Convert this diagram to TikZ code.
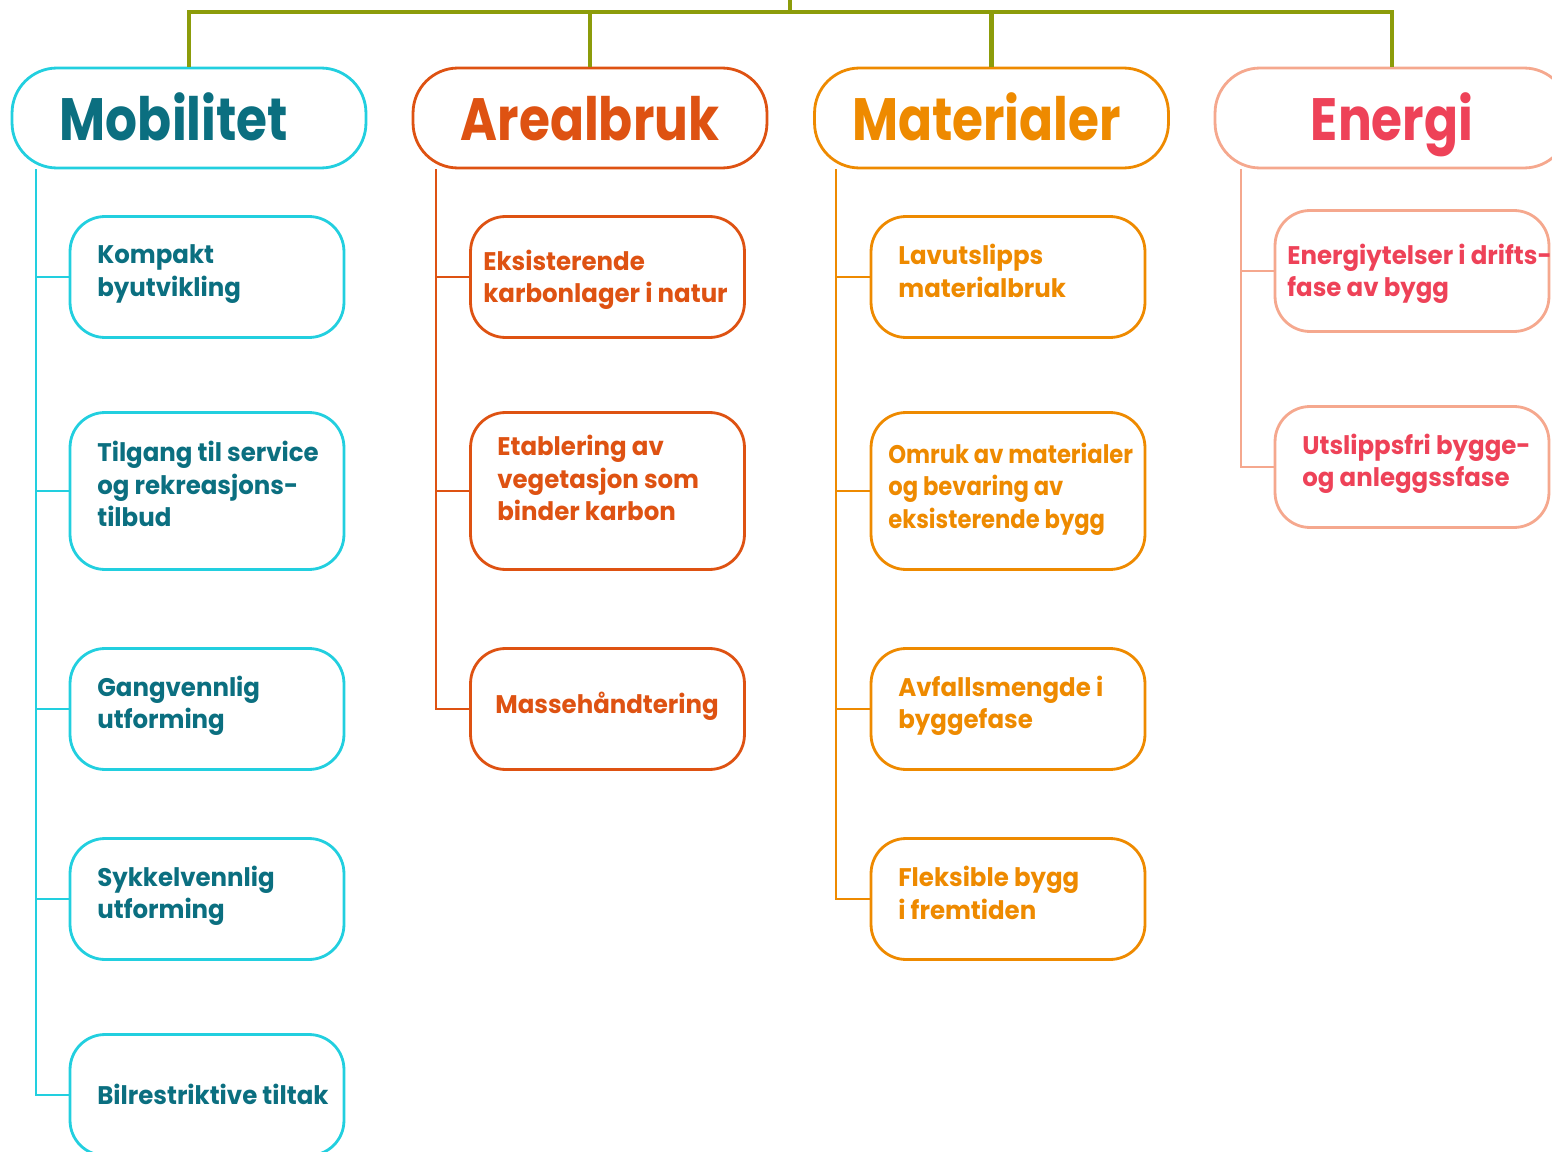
\documentclass[tikz,border=0pt]{standalone}
\usepackage{fontspec}
\setmainfont{Poppins}
\newfontfamily\headfont{Poppins}[FakeStretch=0.84]
\newfontfamily\leaffont{Poppins}[FakeStretch=0.96]
\newfontfamily\leafnarrow{Poppins}[FakeStretch=0.89]
\usetikzlibrary{calc}

\definecolor{topgreen}{HTML}{8C9C0A}
\definecolor{mobline}{HTML}{22CFDF}
\definecolor{mobtext}{HTML}{0B6F80}
\definecolor{arecol}{HTML}{DE5212}
\definecolor{matcol}{HTML}{EE8A00}
\definecolor{eneline}{HTML}{F5A88E}
\definecolor{enetext}{HTML}{EE4258}

\tikzset{
    head/.style={draw, line width=1.6pt, rounded corners=0.9cm, minimum width=7.08cm,
        minimum height=2cm, text height=0.9cm, text depth=0pt,
        font=\headfont\bfseries\fontsize{34}{40}\selectfont},
    leaf/.style={draw, line width=1.6pt, rounded corners=0.7cm, minimum width=5.48cm,
        minimum height=2.42cm},
    tall/.style={minimum height=3.14cm},
    leaftext/.style={anchor=west, inner sep=0pt, align=left,
        font=\leaffont\bfseries\fontsize{14.5}{18.5}\selectfont},
    branch/.style={line width=1.1pt},
    topline/.style={draw=topgreen, line width=2.8pt},
}

\begin{document}
\begin{tikzpicture}[x=0.02cm, y=-0.02cm]
    \useasboundingbox (0,0) rectangle (1552,1152);
    \clip (0,0) rectangle (1552,1152);

    % headers
    \node[head, draw=mobline, text=mobtext] (mob) at (189,118) {Mobilitet\hspace*{0.6cm}};
    \node[head, draw=arecol, text=arecol] (are) at (590,118) {Arealbruk};
    \node[head, draw=matcol, text=matcol] (mat) at (991.5,118) {Materialer\hspace*{0.2cm}};
    \node[head, draw=eneline, text=enetext] (ene) at (1392,118) {Energi};

    % top bar
    \coordinate (top) at (790,0);
    \coordinate (bar) at (790,12);
    \draw[topline] (mob.north) |- (bar) -| (ene.north);
    \draw[topline] (top) -- (bar);
    \draw[topline] (are.north) -- (are.north |- bar);
    \draw[topline] (mat.north) -- (mat.north |- bar);

    % Mobilitet
    \node[leaf, draw=mobline] (mob1) at (207,277) {};
    \node[leaf, tall, draw=mobline] (mob2) at (207,491) {};
    \node[leaf, draw=mobline] (mob3) at (207,709) {};
    \node[leaf, draw=mobline] (mob4) at (207,899) {};
    \node[leaf, draw=mobline] (mob5) at (207,1095) {};
    \node[leaftext, text=mobtext] (mob1t) at (97,274) {Kompakt\\byutvikling};
    \node[leaftext, text=mobtext] (mob2t) at (97,484) {Tilgang til service\\og rekreasjons-\\tilbud};
    \node[leaftext, text=mobtext] (mob3t) at (97,706) {Gangvennlig\\utforming};
    \node[leaftext, text=mobtext] (mob4t) at (97,896) {Sykkelvennlig\\utforming};
    \node[leaftext, text=mobtext] (mob5t) at (97,1094) {Bilrestriktive tiltak};

    % Arealbruk
    \node[leaf, draw=arecol] (are1) at (607.5,277) {};
    \node[leaf, tall, draw=arecol] (are2) at (607.5,491) {};
    \node[leaf, draw=arecol] (are3) at (607.5,709) {};
    \node[leaftext, text=arecol] (are1t) at (483,280) {Eksisterende\\karbonlager i natur};
    \node[leaftext, text=arecol] (are2t) at (497,478) {Etablering av\\vegetasjon som\\binder karbon};
    \node[leaftext, text=arecol] (are3t) at (495,706) {Massehåndtering};

    % Materialer
    \node[leaf, draw=matcol] (mat1) at (1008,277) {};
    \node[leaf, tall, draw=matcol] (mat2) at (1008,491) {};
    \node[leaf, draw=matcol] (mat3) at (1008,709) {};
    \node[leaf, draw=matcol] (mat4) at (1008,899) {};
    \node[leaftext, text=matcol] (mat1t) at (898,271) {Lavutslipps\\materialbruk};
    \node[leaftext, text=matcol, font=\leafnarrow\bfseries\fontsize{14.5}{18.5}\selectfont] (mat2t) at (888,489) {Omruk av materialer\\og bevaring av\\eksisterende bygg};
    \node[leaftext, text=matcol] (mat3t) at (898,706) {Avfallsmengde i\\byggefase};
    \node[leaftext, text=matcol] (mat4t) at (898,893) {Fleksible bygg\\i fremtiden};

    % Energi
    \node[leaf, draw=eneline] (ene1) at (1412,271) {};
    \node[leaf, draw=eneline] (ene2) at (1412,467) {};
    \node[leaftext, text=enetext] (ene1t) at (1287,274) {Energiytelser i drifts-\\fase av bygg};
    \node[leaftext, text=enetext] (ene2t) at (1302,464) {Utslippsfri bygge-\\og anleggssfase};

    % branches
    \coordinate (mobT) at ($(mob.south west)+(25,0)$);
    \coordinate (areT) at ($(are.south west)+(24,0)$);
    \coordinate (matT) at ($(mat.south west)+(23,0)$);
    \coordinate (eneT) at ($(ene.south west)+(27,0)$);
    \foreach \i in {1,...,5}
        \draw[branch, mobline] (mobT) |- (mob\i.west);
    \foreach \i in {1,2,3}
        \draw[branch, arecol] (areT) |- (are\i.west);
    \foreach \i in {1,...,4}
        \draw[branch, matcol] (matT) |- (mat\i.west);
    \foreach \i in {1,2}
        \draw[branch, eneline] (eneT) |- (ene\i.west);
\end{tikzpicture}
\end{document}
